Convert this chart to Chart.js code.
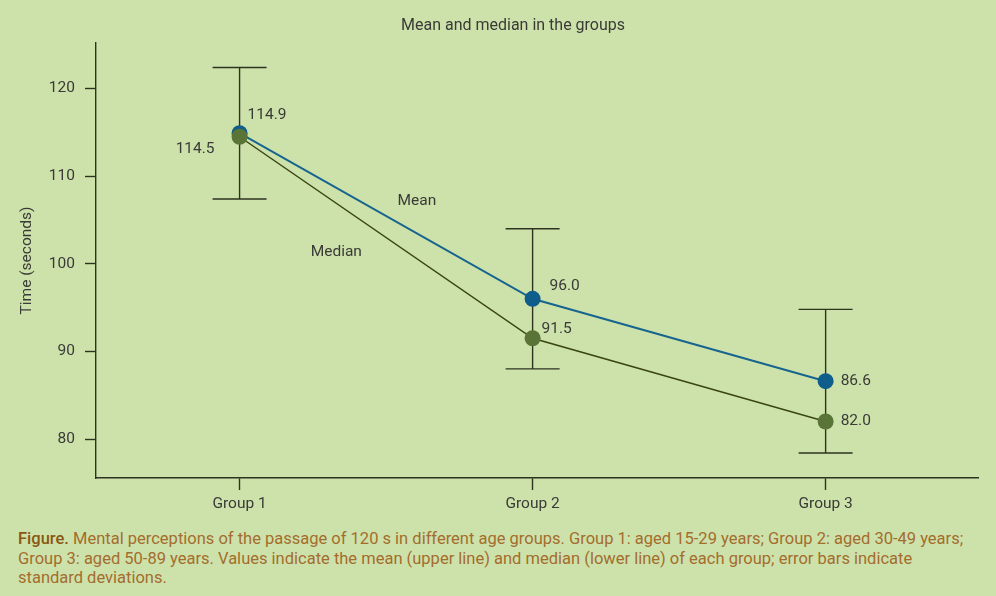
<!DOCTYPE html>
<html>
<head>
<meta charset="utf-8">
<script src="https://cdn.jsdelivr.net/npm/chart.js@4.4.1/dist/chart.umd.min.js"></script>
<style>
  html, body { margin: 0; padding: 0; background: #cde2ab; }
  body { width: 996px; height: 596px; overflow: hidden; font-family: Roboto, sans-serif; }
  #wrap { position: relative; width: 996px; height: 520px; }
  #caption { position: absolute; left: 18px; top: 529px; font-size: 16.5px; line-height: 19.5px; color: #a46d2c; }
  #caption b { color: #8a5712; font-weight: 500; }
</style>
</head>
<body>
<div id="wrap"><canvas id="chart"></canvas></div>
<div id="caption"><b>Figure.</b> Mental perceptions of the passage of 120 s in different age groups. Group 1: aged 15-29 years; Group 2: aged 30-49 years;<br>Group 3: aged 50-89 years. Values indicate the mean (upper line) and median (lower line) of each group; error bars indicate<br>standard deviations.</div>
<script>
const groups = ["Group 1", "Group 2", "Group 3"];
const meanValues = [114.9, 96.0, 86.6];
const medianValues = [114.5, 91.5, 82.0];
const sdValues = [7.5, 8.0, 8.2];
const yTicks = [80, 90, 100, 110, 120];

const ink = "#2e3320";
const textColor = "#3a3a36";

// error bars, value labels and the free text
const extras = {
  id: "extras",
  beforeDatasetsDraw(chart) {
    const { ctx, scales: { x, y } } = chart;
    ctx.save();
    ctx.strokeStyle = ink;
    ctx.lineWidth = 1.4;
    meanValues.forEach((m, i) => {
      const px = x.getPixelForValue(i);
      const top = y.getPixelForValue(m + sdValues[i]);
      const bot = y.getPixelForValue(m - sdValues[i]);
      ctx.beginPath();
      ctx.moveTo(px, top); ctx.lineTo(px, bot);
      ctx.moveTo(px - 27, top); ctx.lineTo(px + 27, top);
      ctx.moveTo(px - 27, bot); ctx.lineTo(px + 27, bot);
      ctx.stroke();
    });
    ctx.restore();
  },
  afterDatasetsDraw(chart) {
    const { ctx, scales: { x, y } } = chart;
    ctx.save();
    ctx.fillStyle = textColor;
    ctx.font = "15.5px Roboto";
    ctx.textBaseline = "middle";

    const meanOff = [[8, -18, "left"], [17, -13, "left"], [15, 0, "left"]];
    const medOff = [[-25, 12, "right"], [9, -9, "left"], [15, 0, "left"]];
    meanValues.forEach((v, i) => {
      ctx.textAlign = meanOff[i][2];
      ctx.fillText(v.toFixed(1), x.getPixelForValue(i) + meanOff[i][0], y.getPixelForValue(v) + meanOff[i][1]);
    });
    medianValues.forEach((v, i) => {
      ctx.textAlign = medOff[i][2];
      ctx.fillText(v.toFixed(1), x.getPixelForValue(i) + medOff[i][0], y.getPixelForValue(v) + medOff[i][1]);
    });

    ctx.textAlign = "center";
    ctx.fillText("Mean", x.getPixelForValue(0.605), y.getPixelForValue(107.15));
    ctx.fillText("Median", x.getPixelForValue(0.33), y.getPixelForValue(101.3));

    ctx.font = "16px Roboto";
    ctx.fillText("Mean and median in the groups", 513, 26);
    ctx.restore();
  }
};

new Chart(document.getElementById("chart"), {
  type: "line",
  data: {
    datasets: [
      {
        label: "Mean",
        data: groups.map((g, i) => ({ x: i, y: meanValues[i] })),
        borderColor: "#17648e",
        borderWidth: 2,
        pointBackgroundColor: "#0e5d8b",
        pointBorderWidth: 0,
        pointRadius: 8,
        order: 1
      },
      {
        label: "Median",
        data: groups.map((g, i) => ({ x: i, y: medianValues[i] })),
        borderColor: "#3a4514",
        borderWidth: 1.5,
        pointBackgroundColor: "#5a7437",
        pointBorderWidth: 0,
        pointRadius: 8,
        order: 0
      }
    ]
  },
  options: {
    responsive: true,
    maintainAspectRatio: false,
    animation: false,
    layout: { padding: { top: 43, right: 18, left: 0, bottom: 0 } },
    plugins: { legend: { display: false }, tooltip: { enabled: false } },
    scales: {
      x: {
        type: "linear",
        min: -0.49,
        max: 2.52,
        afterBuildTicks: s => { s.ticks = groups.map((g, i) => ({ value: i })); },
        afterFit: s => { s.height = 42; },
        ticks: { callback: v => groups[v], color: textColor, font: { family: "Roboto", size: 15.5 }, padding: 5, autoSkip: false, maxRotation: 0 },
        grid: { drawOnChartArea: false, drawTicks: true, tickLength: 12, tickColor: ink, tickWidth: 1.4 },
        border: { display: true, color: ink, width: 1.4 }
      },
      y: {
        min: 75.55,
        max: 125.2,
        afterBuildTicks: s => { s.ticks = yTicks.map(v => ({ value: v })); },
        afterFit: s => { s.width = 96; },
        ticks: { color: textColor, font: { family: "Roboto", size: 15.5 }, padding: 10 },
        grid: { drawOnChartArea: false, drawTicks: true, tickLength: 11, tickColor: ink, tickWidth: 1.4 },
        border: { display: true, color: ink, width: 1.4 },
        title: { display: true, text: "Time (seconds)", color: textColor, font: { family: "Roboto", size: 15.5 }, padding: { top: 18, bottom: 0 } }
      }
    }
  },
  plugins: [extras]
});
</script>
</body>
</html>
